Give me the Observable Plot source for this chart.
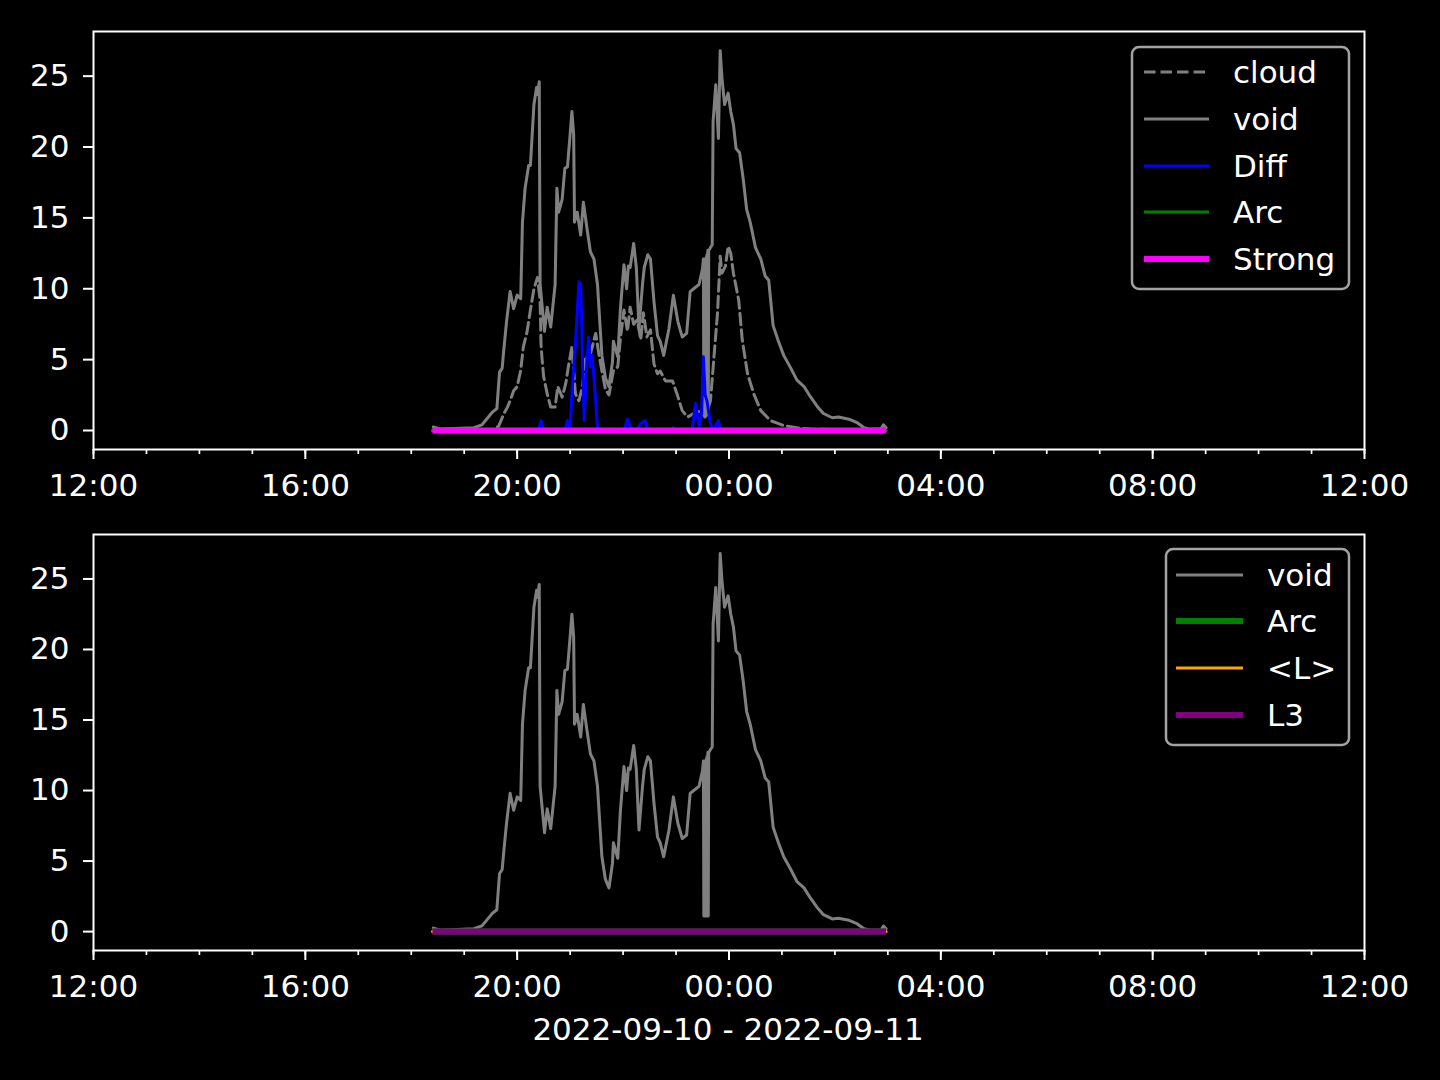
<!DOCTYPE html>
<html><head><meta charset="utf-8">
<script src="https://cdn.jsdelivr.net/npm/d3@7"></script>
<script src="https://cdn.jsdelivr.net/npm/@observablehq/plot@0.6"></script>
<style>
html,body{margin:0;padding:0;background:#000;}
#chart{position:relative;width:1440px;height:1080px;background:#000;overflow:hidden;}
#chart svg{position:absolute;left:0;display:block;}
</style></head><body><div id="chart"></div>
<script>
// ---- data (times are clock times; hours < 12 belong to 2022-09-11) ----
const xDomain = ["2022-09-10T12:00Z", "2022-09-11T12:00Z"];
const yTicks = [0, 5, 10, 15, 20, 25];
const xLabel = "2022-09-10 - 2022-09-11";

const voidTimes = ["18:25","18:33","19:11","19:20","19:26","19:32","19:37","19:40","19:43","19:45","19:48","19:52","19:56","20:00","20:04","20:06","20:09","20:13","20:15","20:19","20:22","20:23","20:25","20:26","20:31","20:34","20:38","20:43","20:45","20:47","20:51","20:54","20:57","21:00","21:02","21:04","21:05","21:08","21:12","21:15","21:19","21:23","21:27","21:31","21:36","21:40","21:44","21:48","21:49","21:54","21:57","22:01","22:04","22:06","22:08","22:12","22:15","22:18","22:22","22:24","22:28","22:31","22:35","22:39","22:42","22:46","22:52","22:57","23:02","23:07","23:12","23:16","23:20","23:26","23:30","23:31:00","23:31:30","23:32:00","23:32:30","23:33:00","23:33:30","23:34:00","23:34:30","23:35:00","23:35:30","23:36:00","23:36:30","23:37","23:41","23:42","23:45","23:48","23:50","23:52","23:55","23:59","00:02","00:05","00:08","00:12","00:16","00:20","00:24","00:30","00:36","00:41","00:45","00:50","00:56","01:02","01:10","01:17","01:25","01:32","01:40","01:47","01:57","02:04","02:16","02:25","02:33","02:40","02:52","02:55","02:58"];
const voidValues = [0.25,0.1,0.2,0.4,0.85,1.3,1.55,4.1,4.4,5.8,7.7,9.8,8.6,9.55,9.3,14.7,17.1,18.7,18.7,23.0,24.2,23.7,24.6,10.3,7.0,8.7,7.3,10.3,17.1,15.4,16.3,18.5,18.6,20.9,22.5,20.9,14.7,15.4,13.8,16.1,14.3,12.6,12.1,10.3,5.3,3.7,3.1,4.85,6.3,5.2,8.6,11.7,10.0,11.6,11.5,13.2,11.5,7.2,10.3,11.5,12.4,12.1,9.1,6.7,6.3,5.3,7.2,9.55,7.7,6.6,6.85,9.8,10.0,10.3,11.4,12.1,1.1,12.0,1.1,11.8,1.1,12.2,1.1,12.4,1.1,12.7,1.1,12.7,13.1,21.8,24.4,20.6,26.8,24.9,23.0,23.8,22.5,21.6,19.9,19.6,17.8,15.6,14.7,12.9,12.1,10.9,10.6,7.4,6.3,5.3,4.4,3.55,3.1,2.4,1.7,1.2,0.9,0.95,0.8,0.56,0.2,0.1,0.1,0.4,0.2];

const cloudTimes = ["18:24","19:30","19:39","19:45","19:49","19:52","19:56","20:00","20:04","20:07","20:11","20:15","20:19","20:23","20:26","20:27","20:28","20:30","20:34","20:38","20:43","20:46","20:51","20:55","20:58","21:02","21:06","21:10","21:14","21:17","21:23","21:29","21:32","21:36","21:40","21:44","21:49","21:54","21:57","22:01","22:05","22:08","22:12","22:16","22:20","22:23","22:27","22:31","22:35","22:39","22:42","22:48","22:56","23:01","23:07","23:13","23:20","23:28","23:33","23:39","23:43","23:47","23:50","23:52","23:56","23:59","00:02","00:05","00:11","00:15","00:21","00:28","00:36","00:47","01:02","01:17","01:32","02:58"];
const cloudValues = [0,0,0.3,1.2,1.65,2.1,2.8,3.1,4.25,5.9,6.9,8.5,10.0,10.8,9.2,6.1,5.2,3.8,2.6,1.65,1.65,3.1,2.35,3.3,4.5,5.9,2.6,2.1,3.1,5.0,5.4,6.85,5.6,4.2,2.9,2.5,4.2,4.5,6.5,8.5,7.0,8.7,7.5,7.8,6.4,8.3,6.6,7.1,4.7,4.0,4.2,3.5,3.5,2.6,1.4,0.95,1.2,1.4,0.95,2.1,5.2,8.3,12.3,11.1,11.6,13.0,12.5,11.1,9.2,6.4,4.0,2.6,1.4,0.7,0.35,0.2,0.1,0];

const diffTimes = ["18:24","20:24","20:27","20:30","20:54","20:57","21:00","21:02","21:06","21:10","21:12","21:14","21:16","21:19","21:21","21:23","21:25","21:29","21:31","22:01","22:05","22:08","22:12","22:16","22:20","22:25","22:28","22:56","22:57","22:59","23:18","23:22","23:26","23:29","23:31","23:33","23:35","23:39","23:42","23:48","23:50","02:58"];
const diffValues = [0,0,0.7,0,0,0.7,0.1,2.6,6.1,10.5,10.4,5.0,0.7,5.0,6.6,4.5,5.3,2.1,0.1,0,0.8,0.3,0,0.1,0.5,0.7,0,0,0.2,0,0,1.9,0.3,1.2,5.2,2.5,2.1,0.5,0,0.7,0,0];

const flatTimes = ["18:24", "02:58"];
const arcValues = [0, 0];
const strongValues = [0, 0];
const meanLValues = [0, 0];
const l3Values = [0, 0];

// ---- helpers ----
function toDate(s) {
  const [h, m, sec = 0] = s.split(":").map(Number);
  return new Date(Date.UTC(2022, 8, h < 12 ? 11 : 10, h, m, sec));
}
function rows(times, values) { return times.map((t, i) => ({t: toDate(t), v: values[i]})); }

const cloudData = rows(cloudTimes, cloudValues);
const voidData = rows(voidTimes, voidValues);
const diffData = rows(diffTimes, diffValues);
const arcData = rows(flatTimes, arcValues);
const strongData = rows(flatTimes, strongValues);
const meanLData = rows(flatTimes, meanLValues);
const l3Data = rows(flatTimes, l3Values);

const FONT = "DejaVu Sans";
const FS = 31;
const THIN = 3, THICK = 6, DASH = "11.5,5";
const x0 = new Date(xDomain[0]), x1 = new Date(xDomain[1]);
const majorTicks = d3.utcHour.every(4).range(x0, new Date(+x1 + 1));
const minorTicks = d3.utcHour.range(x0, new Date(+x1 + 1));

function panel(height, mt, mb, marks) {
  return Plot.plot({
    width: 1440, height,
    marginLeft: 93, marginRight: 76, marginTop: mt, marginBottom: mb,
    style: {background: "black", color: "white", fontFamily: FONT, fontSize: FS + "px", overflow: "visible"},
    x: {type: "utc", domain: [x0, x1]},
    y: {domain: [-1.34, 28.15]},
    marks: [
      ...marks,
      Plot.axisX({ticks: minorTicks, tickSize: 5, strokeWidth: 1.7, fill: "none", tickFormat: () => "", label: null}),
      Plot.axisX({ticks: majorTicks, tickSize: 10, tickPadding: 14, strokeWidth: 2, tickFormat: d3.utcFormat("%H:%M"), label: null, fill: "white"}),
      Plot.axisY({ticks: yTicks, tickSize: 10, tickPadding: 14, strokeWidth: 2, label: null, fill: "white"}),
      Plot.frame({stroke: "white", strokeWidth: 2})
    ]
  });
}

function legend(svg, box, handleX, textX, items) {
  const g = d3.select(svg).append("g");
  g.append("rect").attr("x", box[0]).attr("y", box[1]).attr("width", box[2]).attr("height", box[3])
    .attr("rx", 7).attr("fill", "black").attr("fill-opacity", 0.8)
    .attr("stroke", "#a3a3a3").attr("stroke-width", 2.5);
  items.forEach(it => {
    g.append("line").attr("x1", handleX[0]).attr("x2", handleX[1]).attr("y1", it.y).attr("y2", it.y)
      .attr("stroke", it.color).attr("stroke-width", it.w).attr("stroke-dasharray", it.dash || null);
    g.append("text").attr("x", textX).attr("y", it.y).attr("dy", "0.36em").attr("text-anchor", "start")
      .attr("fill", "white").attr("font-family", FONT).attr("font-size", FS).text(it.label);
  });
}

const chart = document.getElementById("chart");

const topPanel = panel(505, 31, 56, [
  Plot.line(cloudData, {x: "t", y: "v", stroke: "gray", strokeWidth: THIN, strokeDasharray: DASH}),
  Plot.line(voidData, {x: "t", y: "v", stroke: "gray", strokeWidth: THIN}),
  Plot.line(diffData, {x: "t", y: "v", stroke: "blue", strokeWidth: THIN}),
  Plot.line(arcData, {x: "t", y: "v", stroke: "green", strokeWidth: THIN}),
  Plot.line(strongData, {x: "t", y: "v", stroke: "#ff00ff", strokeWidth: THICK, strokeLinecap: "butt"})
]);
topPanel.style.top = "0px";
legend(topPanel, [1132, 47, 217, 242], [1144, 1209], 1233, [
  {label: "cloud", color: "gray", w: THIN, dash: DASH, y: 72},
  {label: "void", color: "gray", w: THIN, y: 119},
  {label: "Diff", color: "blue", w: THIN, y: 166},
  {label: "Arc", color: "green", w: THIN, y: 212},
  {label: "Strong", color: "#ff00ff", w: THICK, y: 259}
]);
chart.appendChild(topPanel);

const bottomPanel = panel(575, 29, 130, [
  Plot.line(voidData, {x: "t", y: "v", stroke: "gray", strokeWidth: THIN}),
  Plot.line(arcData, {x: "t", y: "v", stroke: "green", strokeWidth: THICK, strokeLinecap: "butt"}),
  Plot.line(meanLData, {x: "t", y: "v", stroke: "orange", strokeWidth: THIN}),
  Plot.line(l3Data, {x: "t", y: "v", stroke: "purple", strokeWidth: THICK, strokeLinecap: "butt"})
]);
bottomPanel.style.top = "505px";
legend(bottomPanel, [1166, 44, 183, 196], [1176, 1243], 1267, [
  {label: "void", color: "gray", w: THIN, y: 70},
  {label: "Arc", color: "green", w: THICK, y: 116},
  {label: "<L>", color: "orange", w: THIN, y: 163},
  {label: "L3", color: "purple", w: THICK, y: 210}
]);
d3.select(bottomPanel).append("text").attr("x", 728).attr("y", 535).attr("text-anchor", "middle")
  .attr("fill", "white").attr("font-family", FONT).attr("font-size", FS).text(xLabel);
chart.appendChild(bottomPanel);
</script>
</body></html>
